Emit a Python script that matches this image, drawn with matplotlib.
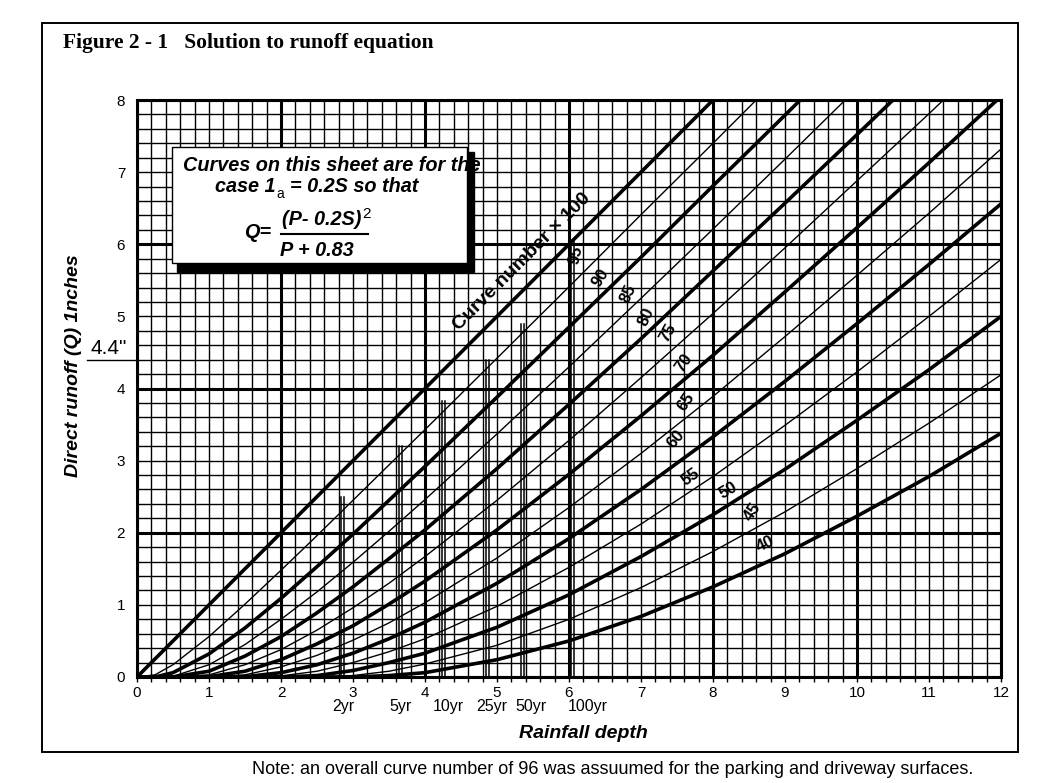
import numpy as np
import matplotlib
matplotlib.use("Agg")
import matplotlib.pyplot as plt
from matplotlib.patches import Rectangle

plt.rcParams["font.family"] = ["Liberation Sans", "DejaVu Sans"]

# Rainfall depth P (in) at which the runoff curves were read
RAINFALL_P = [0, 0.25, 0.5, 1, 1.5, 2, 2.5, 3, 3.5, 4, 5, 6, 7, 8, 9, 10, 11, 12]

# Direct runoff Q (in)
Q_CN100 = [0, 0.25, 0.5, 1, 1.5, 2, 2.5, 3, 3.5, 4, 5, 6, 7, 8, 9, 10, 11, 12]
Q_CN95 = [0, 0.03, 0.17, 0.56, 1.01, 1.48, 1.96, 2.45, 2.94, 3.43, 4.42, 5.41, 6.41, 7.40, 8.40, 9.40, 10.39, 11.39]
Q_CN90 = [0, 0, 0.06, 0.32, 0.68, 1.09, 1.53, 1.98, 2.45, 2.92, 3.88, 4.85, 5.82, 6.81, 7.79, 8.78, 9.77, 10.76]
Q_CN85 = [0, 0, 0.01, 0.17, 0.45, 0.80, 1.18, 1.59, 2.02, 2.46, 3.37, 4.30, 5.25, 6.21, 7.18, 8.16, 9.13, 10.11]
Q_CN80 = [0, 0, 0, 0.08, 0.29, 0.56, 0.89, 1.25, 1.64, 2.04, 2.89, 3.78, 4.69, 5.63, 6.57, 7.52, 8.48, 9.45]
Q_CN75 = [0, 0, 0, 0.03, 0.17, 0.38, 0.65, 0.96, 1.30, 1.67, 2.45, 3.28, 4.15, 5.04, 5.95, 6.88, 7.81, 8.76]
Q_CN70 = [0, 0, 0, 0.005, 0.08, 0.24, 0.46, 0.71, 1.01, 1.33, 2.04, 2.81, 3.62, 4.46, 5.34, 6.23, 7.13, 8.05]
Q_CN65 = [0, 0, 0, 0, 0.03, 0.14, 0.30, 0.51, 0.75, 1.03, 1.65, 2.35, 3.10, 3.89, 4.72, 5.57, 6.43, 7.32]
Q_CN60 = [0, 0, 0, 0, 0.004, 0.06, 0.17, 0.33, 0.53, 0.76, 1.30, 1.92, 2.60, 3.33, 4.10, 4.90, 5.72, 6.56]
Q_CN55 = [0, 0, 0, 0, 0, 0.015, 0.08, 0.20, 0.35, 0.53, 0.98, 1.52, 2.12, 2.78, 3.49, 4.23, 5.00, 5.79]
Q_CN50 = [0, 0, 0, 0, 0, 0, 0.02, 0.09, 0.20, 0.33, 0.69, 1.14, 1.67, 2.25, 2.88, 3.56, 4.26, 5.00]
Q_CN45 = [0, 0, 0, 0, 0, 0, 0, 0.02, 0.08, 0.18, 0.44, 0.80, 1.24, 1.74, 2.29, 2.89, 3.52, 4.19]
Q_CN40 = [0, 0, 0, 0, 0, 0, 0, 0, 0.02, 0.06, 0.24, 0.50, 0.84, 1.25, 1.71, 2.23, 2.78, 3.38]

CURVE_NUMBERS = [100, 95, 90, 85, 80, 75, 70, 65, 60, 55, 50, 45, 40]
CURVE_RUNOFF = [Q_CN100, Q_CN95, Q_CN90, Q_CN85, Q_CN80, Q_CN75, Q_CN70,
                Q_CN65, Q_CN60, Q_CN55, Q_CN50, Q_CN45, Q_CN40]

# Design storms: rainfall depth and the runoff where the marker line stops
RP_LABELS = ["2yr", "5yr", "10yr", "25yr", "50yr", "100yr"]
RP_DEPTH = [2.86, 3.66, 4.26, 4.87, 5.36, 6.05]
RP_RUNOFF = [2.5, 3.2, 3.82, 4.4, 4.9, 6.06]
DESIGN_RUNOFF = 4.4

# curve label placement (data coords) and rotation -- layout only
LABEL_POS = [(6.09, 5.85), (6.44, 5.54), (6.83, 5.31), (7.07, 4.99), (7.37, 4.78),
             (7.59, 4.35), (7.62, 3.82), (7.48, 3.30), (7.69, 2.77), (8.21, 2.59),
             (8.55, 2.29), (8.72, 1.85)]
LABEL_ROT = [78, 58, 65, 65, 60, 55, 55, 50, 35, 30, 55, 25]
RP_LABEL_DX = [0, 0, 3, 3, 6, 11]

W, H = 1039, 783
fig = plt.figure(figsize=(W / 100, H / 100), dpi=100)
ax = fig.add_axes([137 / W, 1 - 677 / H, (1001 - 137) / W, (677 - 100) / H])

# outer frame
fig.add_artist(Rectangle((42 / W, 1 - 752 / H), (1018 - 42) / W, (752 - 23) / H,
                         transform=fig.transFigure, fill=False, ec="black", lw=1.4))

fig.text(63 / W, 1 - 43 / H, "Figure 2 - 1   Solution to runoff equation",
         family="Liberation Serif", weight="bold", size=15.5, va="center", ha="left")

# graph-paper grid, heavier every 2 inches
for i in range(61):
    ax.axvline(i * 0.2, color="black", lw=2.2 if i % 10 == 0 else 1.0, zorder=1)
for i in range(41):
    ax.axhline(i * 0.2, color="black", lw=2.2 if i % 10 == 0 else 1.0, zorder=1)

for cn, q in zip(CURVE_NUMBERS, CURVE_RUNOFF):
    ax.plot(RAINFALL_P, q, color="black", lw=2.6 if cn % 10 == 0 else 1.0, zorder=3)

# design storm markers (double lines)
for p, q in zip(RP_DEPTH, RP_RUNOFF):
    for dx in (-0.02, 0.02):
        ax.plot([p + dx, p + dx], [0, q], color="black", lw=1.1, zorder=2)
for lab, p, dx in zip(RP_LABELS, RP_DEPTH, RP_LABEL_DX):
    ax.annotate(lab, xy=(p, 0), xycoords=("data", "axes fraction"),
                xytext=(dx, -15.5), textcoords="offset points",
                ha="center", va="top", size=11.5, annotation_clip=False)

# curve labels
ax.text(5.35, 5.76, "Curve number \u00d7 100", rotation=45, size=14, weight="bold",
        ha="center", va="center", rotation_mode="anchor", zorder=4)
for cn, (x, y), rot in zip(CURVE_NUMBERS[1:], LABEL_POS, LABEL_ROT):
    ax.text(x, y, str(cn), rotation=rot, size=12, weight="bold", ha="center",
            va="center", rotation_mode="anchor", zorder=4)

# 4.4" reading on the Q axis
ax.plot([-0.69, 0], [DESIGN_RUNOFF, DESIGN_RUNOFF], color="black", lw=1.0, clip_on=False)
ax.text(-0.40, 4.56, '4.4"', size=15, ha="center", va="center", clip_on=False)

# equation box with drop shadow
ax.add_patch(Rectangle((0.56, 5.62), 4.12, 1.66, fc="black", ec="black", zorder=5))
ax.add_patch(Rectangle((0.49, 5.74), 4.09, 1.61, fc="white", ec="black", lw=1.0, zorder=6))
bi = dict(weight="bold", style="italic", size=14.3, zorder=7, va="center")
ax.text(0.64, 7.09, "Curves on this sheet are for the", ha="left", **bi)
ax.text(1.08, 6.80, "case 1", ha="left", **bi)
ax.text(1.93, 6.70, "a", ha="left", va="center", size=10, zorder=8)
ax.text(2.12, 6.80, "= 0.2S so that", ha="left", **bi)
ax.text(1.68, 6.16, "Q=", ha="center", **bi)
ax.text(2.57, 6.34, "(P- 0.2S)", ha="center", **bi)
ax.text(3.19, 6.42, "2", ha="center", va="center", size=11, zorder=7)
ax.plot([2.0, 3.21], [6.14, 6.14], color="black", lw=1.5, zorder=7)
ax.text(2.50, 5.92, "P + 0.83", ha="center", **bi)

ax.set_xlim(0, 12)
ax.set_ylim(0, 8)
ax.set_xticks(range(13))
ax.set_xticks(np.arange(0, 12.01, 0.2), minor=True)
ax.set_yticks(range(9))
ax.tick_params(axis="x", which="both", direction="out", length=3.6, width=1.0,
               pad=3, labelsize=11)
ax.tick_params(axis="y", which="both", length=0, pad=8.5, labelsize=11)
for s in ax.spines.values():
    s.set_linewidth(2.2)

fig.text(73 / W, 1 - 366 / H, "Direct runoff (Q) 1nches", rotation=90,
         weight="bold", style="italic", size=14, ha="center", va="center")
fig.text(583 / W, 1 - 733 / H, "Rainfall depth", weight="bold", style="italic",
         size=14, ha="center", va="center")
fig.text(252 / W, 1 - 769 / H,
         "Note: an overall curve number of 96 was assuumed for the parking and driveway surfaces.",
         size=13, ha="left", va="center")

fig.savefig("out.png", dpi=100)
